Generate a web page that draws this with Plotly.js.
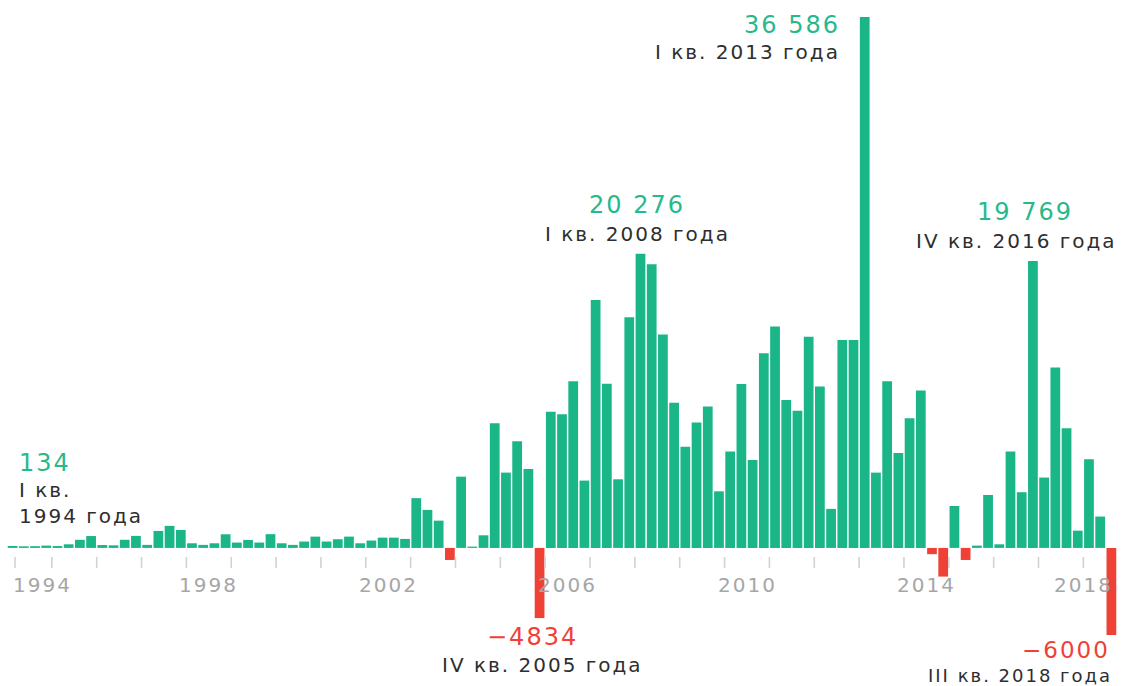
<!DOCTYPE html>
<html lang="ru">
<head>
<meta charset="utf-8">
<script src="https://cdn.plot.ly/plotly-3.0.1.min.js"></script>
<style>
  html, body { margin: 0; padding: 0; background: #ffffff; }
  #chart { width: 1122px; height: 686px; }
  svg text { letter-spacing: 2px; }
</style>
</head>
<body>
<div id="chart"></div>
<script>
// Quarterly values, from I кв. 1994 to III кв. 2018
const startYear = 1994;
const values = [
  134, 110, 120, 160,          // 1994
  130, 250, 560, 820,          // 1995
  200, 180, 560, 830,          // 1996
  210, 1170, 1520, 1240,       // 1997
  320, 210, 320, 940,          // 1998
  370, 550, 370, 950,          // 1999
  320, 210, 440, 780,          // 2000
  440, 600, 780, 320,          // 2001
  510, 710, 710, 620,          // 2002
  3430, 2620, 1880, -830,      // 2003
  4910, 90, 870, 8590,         // 2004
  5190, 7350, 5440, -4834,     // 2005
  9390, 9220, 11480, 4640,     // 2006
  17090, 11320, 4730, 15890,   // 2007
  20276, 19540, 14700, 10010,  // 2008
  6980, 8640, 9740, 3900,      // 2009
  6640, 11300, 6060, 13410,    // 2010
  15250, 10200, 9460, 14560,   // 2011
  11120, 2690, 14330, 14330,   // 2012
  36586, 5190, 11490, 6550,    // 2013
  8930, 10840, -430, -1975,    // 2014
  2890, -830, 160, 3650,       // 2015
  250, 6640, 3840, 19769,      // 2016
  4850, 12430, 8250, 1190,     // 2017
  6110, 2160, -6000            // 2018
];
const yearLabels = [1994, 1998, 2002, 2006, 2010, 2014, 2018];
const romanQuarters = ['I', 'II', 'III', 'IV'];

const GREEN = '#1ab687';
const GREEN_TEXT = '#27b98c';
const RED = '#ef4136';
const LABEL = '#2e2e2e';
const AXIS_TEXT = '#a6a6a6';
const TICK = '#d2d2d2';
const FONT = 'DejaVu Sans, Noto Sans, sans-serif';

const lastYear = startYear + (values.length - 1) / 4 | 0;
const xEnd = startYear + values.length / 4;
const xs = values.map((_, i) => startYear + (i + 0.5) / 4);
const colors = values.map(v => (v < 0 ? RED : GREEN));

function quarterOf(i) { return romanQuarters[i % 4]; }
function yearOf(i) { return startYear + Math.floor(i / 4); }
function fmt(v) {
  const a = Math.abs(v);
  let s = String(a);
  if (a >= 10000) s = s.replace(/\B(?=(\d{3})+(?!\d))/g, ' ');
  return (v < 0 ? '\u2212' : '') + s;
}

const trace = {
  type: 'bar',
  x: xs,
  y: values,
  marker: { color: colors, line: { width: 0 } },
  hoverinfo: 'skip'
};

// Year boundary tick marks, drawn a little below the zero line
const shapes = [];
for (let y = startYear; y <= lastYear; y++) {
  const off = (y === startYear ? 8 : 0); // the first mark sits slightly inside the plot edge
  shapes.push({
    type: 'line', xref: 'x', yref: 'y',
    xsizemode: 'pixel', xanchor: y, x0: off, x1: off,
    ysizemode: 'pixel', yanchor: 0, y0: -9, y1: -20,
    line: { color: TICK, width: 1.6 }
  });
}

const annotations = [];
const txt = (o) => Object.assign({
  showarrow: false, xref: 'x', yref: 'y', yanchor: 'middle', borderpad: 0,
  font: { family: FONT, size: 20, color: LABEL }
}, o);

// Year captions under the axis
yearLabels.forEach((yr, k) => {
  let a = { x: yr + 0.5, xanchor: 'center', xshift: 0 };
  if (k === 0) a = { x: yr, xanchor: 'left', xshift: 5 };
  if (k === yearLabels.length - 1) a = { x: xEnd, xanchor: 'right', xshift: -3 };
  annotations.push(txt(Object.assign(a, {
    y: 0, yshift: -37, text: String(yr),
    font: { family: FONT, size: 20, color: AXIS_TEXT }
  })));
});

// Callouts for notable quarters
const numFont = (v, size) => ({ family: FONT, size: size || 24, color: v < 0 ? RED : GREEN_TEXT });

// first quarter
(function () {
  const i = 0, v = values[i];
  const base = { x: startYear, xanchor: 'left', xshift: 11, y: v };
  annotations.push(txt(Object.assign({}, base, { yshift: 83, text: fmt(v), font: numFont(v) })));
  annotations.push(txt(Object.assign({}, base, { yshift: 56, text: quarterOf(i) + ' кв.' })));
  annotations.push(txt(Object.assign({}, base, { yshift: 30, text: yearOf(i) + ' года' })));
})();

// maximum (tallest bar), text placed to its left
(function () {
  const i = values.indexOf(Math.max(...values)), v = values[i];
  const base = { x: xs[i] - 0.125, xanchor: 'right', xshift: -18, y: v };
  annotations.push(txt(Object.assign({}, base, { yshift: -8, text: fmt(v), font: numFont(v) })));
  annotations.push(txt(Object.assign({}, base, { yshift: -35, text: quarterOf(i) + ' кв. ' + yearOf(i) + ' года' })));
})();

// peaks with text above the bar
[[56, -3, -3], [91, -8, -16]].forEach(([i, sxNum, sxLab]) => {
  const v = values[i];
  annotations.push(txt({ x: xs[i], xanchor: 'center', xshift: sxNum, y: v, yshift: 49, text: fmt(v), font: numFont(v) }));
  annotations.push(txt({ x: xs[i], xanchor: 'center', xshift: sxLab, y: v, yshift: 20, text: quarterOf(i) + ' кв. ' + yearOf(i) + ' года' }));
});

// negative quarters with text below the bar
(function () {
  const i = 47, v = values[i];
  annotations.push(txt({ x: xs[i], xanchor: 'center', xshift: -7, y: v, yshift: -19, text: fmt(v), font: numFont(v) }));
  annotations.push(txt({ x: xs[i], xanchor: 'center', xshift: 3, y: v, yshift: -47, text: quarterOf(i) + ' кв. ' + yearOf(i) + ' года' }));
})();
(function () {
  const i = values.length - 1, v = values[i];
  annotations.push(txt({ x: xEnd, xanchor: 'right', xshift: -6, y: v, yshift: -15, text: fmt(v), font: numFont(v, 23) }));
  annotations.push(txt({ x: xEnd, xanchor: 'right', xshift: -4, y: v, yshift: -40, text: quarterOf(i) + ' кв. ' + yearOf(i) + ' года',
    font: { family: FONT, size: 18, color: LABEL } }));
})();

const layout = {
  width: 1122,
  height: 686,
  margin: { l: 7, r: 5, t: 17, b: 51, pad: 0 },
  paper_bgcolor: '#ffffff',
  plot_bgcolor: '#ffffff',
  showlegend: false,
  bargap: 0.13,
  xaxis: { range: [startYear, xEnd], visible: false, fixedrange: true },
  yaxis: { range: [Math.min(...values), Math.max(...values)], visible: false, fixedrange: true },
  shapes: shapes,
  annotations: annotations,
  font: { family: FONT }
};

Plotly.newPlot('chart', [trace], layout, { displayModeBar: false, staticPlot: true });
</script>
</body>
</html>
